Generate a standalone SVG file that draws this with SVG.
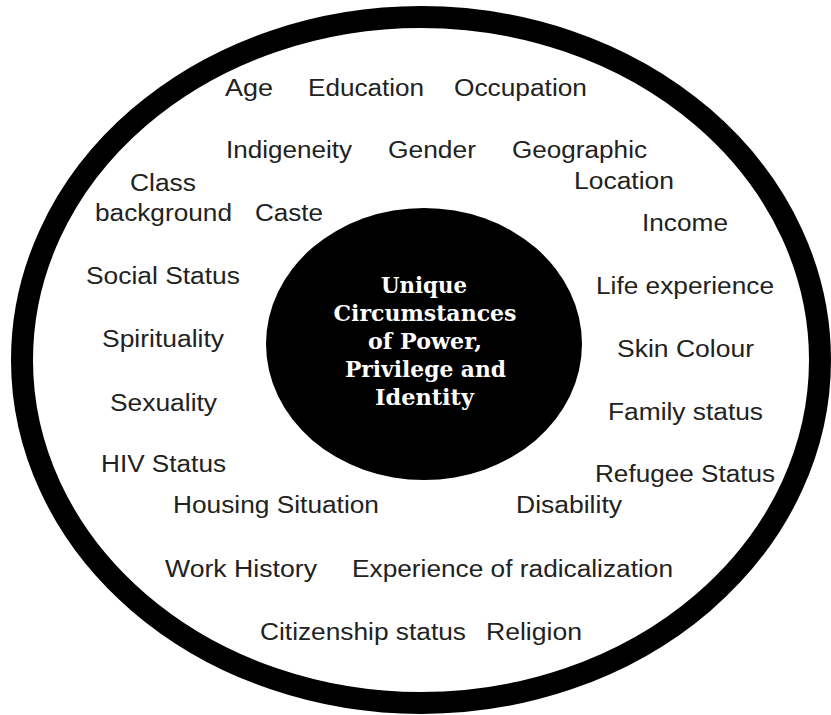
<svg xmlns="http://www.w3.org/2000/svg" width="831" height="715" viewBox="0 0 831 715">
<style>
.lbl{font-family:"Liberation Sans",Arial,sans-serif;font-size:23px;fill:#222;}
.ctr{font-family:"DejaVu Serif","Liberation Serif",serif;font-weight:bold;font-size:21.5px;fill:#fff;text-anchor:middle;}
</style>
<rect width="831" height="715" fill="#fff"/>
<g id="outer-ring"><ellipse cx="421" cy="360" rx="399" ry="343" fill="none" stroke="#000" stroke-width="22"/></g>
<g id="center">
<ellipse cx="424" cy="344" rx="158" ry="136" fill="#000"/>
<text class="ctr" x="424" y="293" textLength="86" lengthAdjust="spacingAndGlyphs">Unique</text>
<text class="ctr" x="425" y="321" textLength="183" lengthAdjust="spacingAndGlyphs">Circumstances</text>
<text class="ctr" x="425" y="349" textLength="114" lengthAdjust="spacingAndGlyphs">of Power,</text>
<text class="ctr" x="425.5" y="377" textLength="161" lengthAdjust="spacingAndGlyphs">Privilege and</text>
<text class="ctr" x="424.5" y="405" textLength="99" lengthAdjust="spacingAndGlyphs">Identity</text>
</g>
<g id="connectors"></g>
<g id="n-age"><text class="lbl" x="225" y="96" textLength="48" lengthAdjust="spacingAndGlyphs">Age</text></g>
<g id="n-education"><text class="lbl" x="308" y="96" textLength="116" lengthAdjust="spacingAndGlyphs">Education</text></g>
<g id="n-occupation"><text class="lbl" x="454" y="96" textLength="133" lengthAdjust="spacingAndGlyphs">Occupation</text></g>
<g id="n-indigeneity"><text class="lbl" x="226" y="158" textLength="126" lengthAdjust="spacingAndGlyphs">Indigeneity</text></g>
<g id="n-gender"><text class="lbl" x="388" y="158" textLength="88" lengthAdjust="spacingAndGlyphs">Gender</text></g>
<g id="n-geographic"><text class="lbl" x="512" y="158" textLength="135" lengthAdjust="spacingAndGlyphs">Geographic</text><text class="lbl" x="574" y="189" textLength="100" lengthAdjust="spacingAndGlyphs">Location</text></g>
<g id="n-class"><text class="lbl" x="130" y="191" textLength="66" lengthAdjust="spacingAndGlyphs">Class</text><text class="lbl" x="95" y="221" textLength="137" lengthAdjust="spacingAndGlyphs">background</text></g>
<g id="n-caste"><text class="lbl" x="255" y="221" textLength="68" lengthAdjust="spacingAndGlyphs">Caste</text></g>
<g id="n-income"><text class="lbl" x="642" y="231" textLength="86" lengthAdjust="spacingAndGlyphs">Income</text></g>
<g id="n-social"><text class="lbl" x="86" y="284" textLength="154" lengthAdjust="spacingAndGlyphs">Social Status</text></g>
<g id="n-life"><text class="lbl" x="596" y="294" textLength="178" lengthAdjust="spacingAndGlyphs">Life experience</text></g>
<g id="n-spirituality"><text class="lbl" x="102" y="347" textLength="122" lengthAdjust="spacingAndGlyphs">Spirituality</text></g>
<g id="n-skin"><text class="lbl" x="617" y="357" textLength="137" lengthAdjust="spacingAndGlyphs">Skin Colour</text></g>
<g id="n-sexuality"><text class="lbl" x="110" y="411" textLength="107" lengthAdjust="spacingAndGlyphs">Sexuality</text></g>
<g id="n-family"><text class="lbl" x="608" y="420" textLength="155" lengthAdjust="spacingAndGlyphs">Family status</text></g>
<g id="n-hiv"><text class="lbl" x="101" y="472" textLength="125" lengthAdjust="spacingAndGlyphs">HIV Status</text></g>
<g id="n-refugee"><text class="lbl" x="595" y="482" textLength="180" lengthAdjust="spacingAndGlyphs">Refugee Status</text></g>
<g id="n-housing"><text class="lbl" x="173" y="513" textLength="206" lengthAdjust="spacingAndGlyphs">Housing Situation</text></g>
<g id="n-disability"><text class="lbl" x="516" y="513" textLength="106" lengthAdjust="spacingAndGlyphs">Disability</text></g>
<g id="n-work"><text class="lbl" x="165" y="577" textLength="152" lengthAdjust="spacingAndGlyphs">Work History</text></g>
<g id="n-radicalization"><text class="lbl" x="352" y="577" textLength="321" lengthAdjust="spacingAndGlyphs">Experience of radicalization</text></g>
<g id="n-citizenship"><text class="lbl" x="260" y="640" textLength="206" lengthAdjust="spacingAndGlyphs">Citizenship status</text></g>
<g id="n-religion"><text class="lbl" x="486" y="640" textLength="96" lengthAdjust="spacingAndGlyphs">Religion</text></g>
</svg>
